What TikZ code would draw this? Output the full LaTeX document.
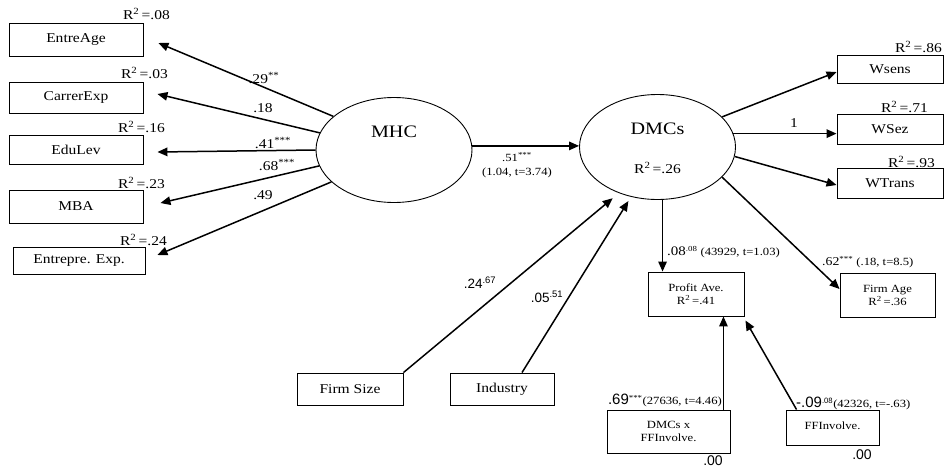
\documentclass[tikz,border=0pt]{standalone}
\usepackage{fontspec}
\setmainfont{Liberation Serif}[FakeStretch=1.15]
\newfontfamily\numfont{Liberation Sans}
\usetikzlibrary{shapes.geometric,arrows.meta}
\newcommand{\rsq}[1]{R\textsuperscript{2}\,=#1}
\newcommand{\up}[1]{\textsuperscript{#1}}
\newcommand{\hightext}[1]{\raisebox{0pt}[\height][36pt]{#1}}
\begin{document}
\begin{tikzpicture}[x=1pt,y=-1pt,
    box/.style={draw,line width=0.9pt,inner sep=0pt,font=\fontsize{13.5}{15}\selectfont},
    oval/.style={draw,ellipse,line width=0.9pt,inner sep=0pt,minimum width=156pt,minimum height=105pt,
      font=\fontsize{17.5}{20}\selectfont},
    arr/.style={line width=1.5pt,-{Triangle[length=10pt,width=8.5pt]}},
    lab/.style={inner sep=0pt,font=\fontsize{13.5}{15}\selectfont},
    small/.style={inner sep=0pt,font=\fontsize{11}{13}\selectfont},
    num/.style={inner sep=0pt,font=\numfont\fontsize{14}{16}\selectfont}]
  \useasboundingbox (0,0) rectangle (947,469);
  % latent variables
  \node[oval] (mhc) at (394,150) {\hightext{MHC}};
  \node[oval,label={[lab,yshift=-21pt]center:\rsq{.26}}] (dmc) at (657.5,147) {\hightext{DMCs}};

  % indicators of MHC
  \node[box,minimum width=134pt,minimum height=33pt] (ent) at (76,39.5) {EntreAge};
  \node[box,minimum width=134pt,minimum height=31pt] (car) at (76,97.5) {CarrerExp};
  \node[box,minimum width=134pt,minimum height=29pt] (edu) at (76,149.5) {EduLev};
  \node[box,minimum width=134pt,minimum height=33pt] (mba) at (76,206.5) {MBA};
  \node[box,minimum width=132pt,minimum height=27pt] (exp) at (79,260.5) {\raisebox{-5pt}{Entrepre. Exp.}};
  \node[lab,anchor=east] (rent) at (170,14) {\rsq{.08}};
  \node[lab,anchor=east] (rcar) at (168,73) {\rsq{.03}};
  \node[lab,anchor=east] (redu) at (165,127) {\rsq{.16}};
  \node[lab,anchor=east] (rmba) at (165,183) {\rsq{.23}};
  \node[lab,anchor=east] (rexp) at (167,240) {\rsq{.24}};

  % indicators of DMCs
  \node[box,minimum width=106pt,minimum height=28pt] (ws) at (890,69) {Wsens};
  \node[box,minimum width=106pt,minimum height=30pt] (wz) at (890,129) {WSez};
  \node[box,minimum width=106pt,minimum height=30pt] (wt) at (890,183) {WTrans};
  \node[lab,anchor=east] (rws) at (942,47) {\rsq{.86}};
  \node[lab,anchor=east] (rwz) at (928,107) {\rsq{.71}};
  \node[lab,anchor=east] (rwt) at (935,162) {\rsq{.93}};

  % outcomes and controls
  \node[box,small,minimum width=96pt,minimum height=44pt,align=center] (pa) at (696,294) {Profit Ave.\\\rsq{.41}};
  \node[box,small,minimum width=95pt,minimum height=44pt,align=center] (fa) at (887.5,295) {Firm Age\\\rsq{.36}};
  \node[box,minimum width=106pt,minimum height=32pt] (fs) at (350,389) {Firm Size};
  \node[box,minimum width=104pt,minimum height=32pt] (ind) at (502,389) {Industry};
  \node[box,small,minimum width=123pt,minimum height=43pt,align=center] (dx) at (668.5,431.5) {DMCs x\\FFInvolve.};
  \node[box,small,minimum width=93pt,minimum height=35pt] (ff) at (832.5,427.5) {\raisebox{4pt}{FFInvolve.}};
  \node[num] (zdx) at (713,461) {.00};
  \node[num] (zff) at (862,455) {.00};

  % paths
  \draw[arr] (mhc.151) -- ([xshift=15pt,yshift=-3.5pt]ent.east);
  \draw[arr] (mhc.167) -- ([xshift=14pt,yshift=3.5pt]car.east);
  \draw[arr] (mhc.180) -- ([xshift=14pt,yshift=-2.5pt]edu.east);
  \draw[arr] (mhc.192) -- ([xshift=17pt,yshift=3.5pt]mba.east);
  \draw[arr] (mhc.207) -- ([xshift=12pt,yshift=5.5pt]exp.east);
  \draw[arr] (mhc.3) -- (mhc.3 -| dmc.west);
  \draw[arr] (dmc.25) -- ([yshift=-3pt]ws.west);
  \draw[arr] (dmc.10) -- (dmc.10 -| wz.west);
  \draw[arr] (dmc.353) -- ([yshift=-2pt]wt.west);
  \draw[arr] (dmc.335) -- ([yshift=6pt]fa.west);
  \coordinate (pin) at ([xshift=15pt]pa.north west);
  \draw[arr] (dmc.south -| pin) -- (pin);
  \draw[arr,shorten >=8pt] (fs.north east) -- (dmc.230);
  \draw[arr,shorten >=5pt] ([xshift=20pt]ind.north) -- (dmc.242);
  \draw[arr] ([xshift=-7pt]dx.north east) -- ([xshift=-7pt]dx.north east |- pa.south);
  \draw[arr] ([xshift=11pt]ff.north west) -- ([xshift=1pt,yshift=-4pt]pa.south east);

  % coefficients
  \node[lab] (c1) at (264,78) {.29\up{**}};
  \node[lab] (c2) at (263,108) {.18};
  \node[lab] (c3) at (273,143) {.41\up{***}};
  \node[lab] (c4) at (277,165) {.68\up{***}};
  \node[lab] (c5) at (263,195) {.49};
  \node[small,align=center] (c6) at (517,165) {.51\up{***}\\[1pt](1.04, t=3.74)};
  \node[lab] (c7) at (794,123) {1};
  \node[num,font=\numfont\fontsize{13.5}{16}\selectfont] (c8) at (480,283) {.24\up{.67}};
  \node[num,font=\numfont\fontsize{13.5}{16}\selectfont] (c9) at (547,297) {.05\up{.51}};
  \node[small,anchor=west] (c10) at (667,252) {{\fontsize{13}{15}\selectfont.08}\up{.08} (43929, t=1.03)};
  \node[small,anchor=west] (c11) at (822,262) {{\fontsize{12}{15}\selectfont.62}\up{***} (.18, t=8.5)};
  \node[small,anchor=east] (c12) at (722,400) {{\numfont\fontsize{15}{17}\selectfont.69}\up{***}(27636, t=4.46)};
  \node[small,anchor=west] (c13) at (796,403) {{\numfont\fontsize{15}{17}\selectfont-.09}{\numfont\up{.08}}(42326, t=-.63)};
\end{tikzpicture}
\end{document}
